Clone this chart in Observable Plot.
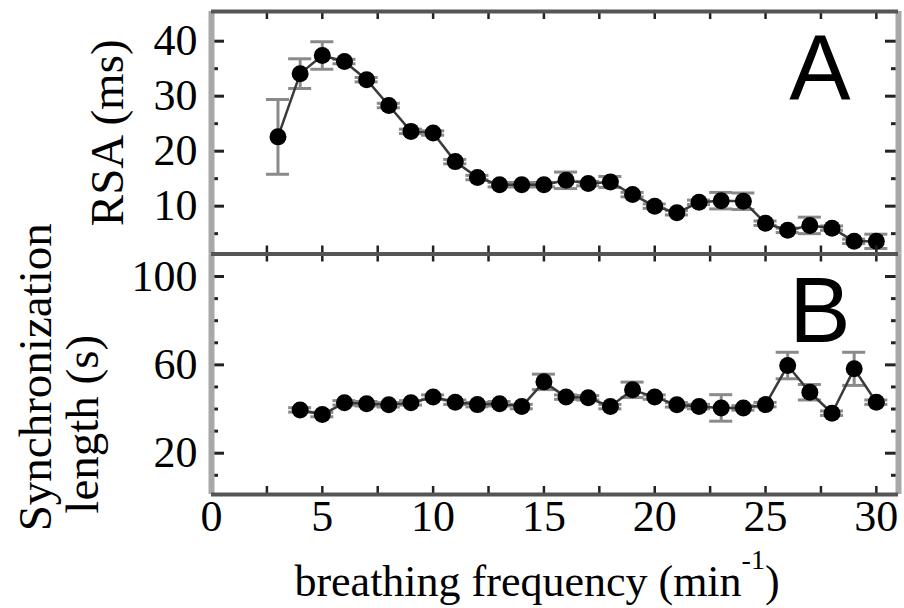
<!DOCTYPE html>
<html><head><meta charset="utf-8">
<script src="https://cdn.jsdelivr.net/npm/d3@7"></script>
<script src="https://cdn.jsdelivr.net/npm/@observablehq/plot@0.6"></script>
<style>
body{margin:0;background:#fff;}
#wrap{position:relative;width:904px;height:608px;overflow:hidden;background:#fff;}
#wrap svg{position:absolute;left:0;}
</style></head><body><div id="wrap"></div>
<script>
// ---- data ----
const freqA = [3,4,5,6,7,8,9,10,11,12,13,14,15,16,17,18,19,20,21,22,23,24,25,26,27,28,29,30];
const rsa   = [22.6,34.1,37.4,36.3,33.0,28.3,23.6,23.3,18.1,15.2,13.9,13.9,13.9,14.7,14.1,14.4,12.1,10.0,8.8,10.7,11.0,10.9,6.9,5.6,6.5,6.0,3.6,3.6];
const rsaErr= [6.8,2.7,2.5,0.4,0.4,0.4,0.4,0.4,0.4,0.4,0.4,0.4,0.4,1.5,0.4,1.0,0.4,0.4,0.4,0.4,1.5,1.5,0.4,0.4,1.5,0.4,0.4,1.3];
const freqB = [4,5,6,7,8,9,10,11,12,13,14,15,16,17,18,19,20,21,22,23,24,25,26,27,28,29,30];
const sync  = [39.6,37.5,42.8,42.4,41.9,42.8,45.4,43.1,42.0,42.4,41.1,52.3,45.4,45.1,41.1,48.7,45.4,41.9,41.1,40.5,40.5,42.0,59.7,47.6,38.1,58.2,43.1];
const syncErr=[1.0,1.0,1.0,1.0,1.0,1.0,1.0,1.0,1.0,1.0,1.0,3.5,1.0,1.0,1.0,3.5,1.0,1.0,1.0,6.0,1.0,1.0,6.0,3.5,1.0,7.5,1.0];
const xTickLabels = [0,5,10,15,20,25,30];
const xTicks = [2.5,5,7.5,10,12.5,15,17.5,20,22.5,25,27.5,30];
const yMajorA = [10,20,30,40];
const yMinorA = [5,15,25,35];
const yMajorB = [20,60,100];
const yMinorB = [10,30,40,50,70,80,90];
const xDomain = [0,31];
const yDomainA = [1.3,45.4];
const yDomainB = [1.3,110.2];
const panelLabels = ["A","B"];
const yLabelA = "RSA (ms)";
const yLabelB1 = "Synchronization";
const yLabelB2 = "length (s)";
const xLabel = "breathing frequency (min";
const xLabelSup = "-1";
const xLabelEnd = ")";

// ---- layout ----
const W = 904, ML = 211, MR = 6;
const FW = W - ML - MR;
const serif = "'Liberation Serif','Times New Roman',serif";
const sans = "'Liberation Sans',Arial,sans-serif";
const frameDark = "#555", frameLight = "#a8a8a8", tickCol = "#222", errCol = "#8a8a8a";

const tableA = freqA.map((f,i)=>({x:f, v:rsa[i], e:rsaErr[i]}));
const tableB = freqB.map((f,i)=>({x:f, v:sync[i], e:syncErr[i]}));

function panel({data, yDomain, yMajor, yMinor, height, mt, mb, label, extra}) {
  const FH = height - mt - mb;
  const marks = [
    // error bars
    Plot.ruleX(data, {x:"x", y1:d=>d.v-d.e, y2:d=>d.v+d.e, stroke:errCol, strokeWidth:3}),
    Plot.ruleY(data, {y:d=>d.v+d.e, x1:d=>d.x-0.52, x2:d=>d.x+0.52, stroke:errCol, strokeWidth:3}),
    Plot.ruleY(data, {y:d=>d.v-d.e, x1:d=>d.x-0.52, x2:d=>d.x+0.52, stroke:errCol, strokeWidth:3}),
    Plot.line(data, {x:"x", y:"v", stroke:"#3a3a3a", strokeWidth:2.5}),
    Plot.dot(data, {x:"x", y:"v", r:8.5, fill:"#000", stroke:"none"}),
    // inward ticks
    Plot.tickY(yMajor, {y:d=>d, insetRight:FW-13, stroke:tickCol, strokeWidth:3}),
    Plot.tickY(yMinor, {y:d=>d, insetRight:FW-7, stroke:tickCol, strokeWidth:3}),
    Plot.tickY(yMajor, {y:d=>d, insetLeft:FW-13, stroke:tickCol, strokeWidth:3}),
    Plot.tickY(yMinor, {y:d=>d, insetLeft:FW-7, stroke:tickCol, strokeWidth:3}),
    Plot.tickX(xTicks, {x:d=>d, insetBottom:FH-8, stroke:tickCol, strokeWidth:2.5}),
    Plot.tickX(xTicks, {x:d=>d, insetTop:FH-8, stroke:tickCol, strokeWidth:2.5}),
    // frame
    Plot.ruleX(xDomain, {x:d=>d, stroke:frameLight, strokeWidth:6}),
    Plot.ruleY(yDomain, {y:d=>d, stroke:frameDark, strokeWidth:4}),
    Plot.axisY({ticks:yMajor, tickSize:0, tickPadding:14, label:null, fontSize:44, fontFamily:serif}),
    Plot.text([label], {text:d=>d, frameAnchor:"top-right", textAnchor:"end", lineAnchor:"middle", dx:-48, dy:58.7, fontSize:92, fontFamily:sans, fill:"#000"}),
    ...extra
  ];
  return Plot.plot({
    width: W, height, marginLeft: ML, marginRight: MR, marginTop: mt, marginBottom: mb,
    x: {domain: xDomain, axis: null},
    y: {domain: yDomain},
    style: {fontFamily: serif, fontSize: "44px", background: "transparent", overflow: "visible", color: "#000"},
    marks
  });
}

const svgA = panel({
  data: tableA, yDomain: yDomainA, yMajor: yMajorA, yMinor: yMinorA,
  height: 256, mt: 11, mb: 2.5, label: panelLabels[0],
  extra: [
    Plot.text([yLabelA], {text:d=>d, frameAnchor:"left", textAnchor:"middle", rotate:-90, dx:-104, dy:0, fontSize:47, fontFamily:serif, fill:"#000"})
  ]
});
const svgB = panel({
  data: tableB, yDomain: yDomainB, yMajor: yMajorB, yMinor: yMinorB,
  height: 358, mt: 3.5, mb: 114, label: panelLabels[1],
  extra: [
    Plot.axisX({ticks:xTickLabels, tickSize:0, tickPadding:5, label:null, fontSize:44, fontFamily:serif}),
    Plot.text([yLabelB1], {text:d=>d, frameAnchor:"left", textAnchor:"middle", rotate:-90, dx:-176, dy:3, fontSize:47, fontFamily:serif, fill:"#000"}),
    Plot.text([yLabelB2], {text:d=>d, frameAnchor:"left", textAnchor:"middle", rotate:-90, dx:-129, dy:50, fontSize:47, fontFamily:serif, fill:"#000"}),
    Plot.text([xLabel], {text:d=>d, frameAnchor:"bottom", textAnchor:"middle", lineAnchor:"middle", dx:-18, dy:87, fontSize:44, fontFamily:serif, fill:"#000"})
  ]
});

const wrap = document.getElementById("wrap");
svgA.style.top = "0px";
svgB.style.top = "250px";
wrap.appendChild(svgA);
wrap.appendChild(svgB);

// superscript in x label
d3.select(svgB).selectAll("text").filter(function(){ return this.textContent === xLabel; }).each(function(){
  const t = d3.select(this);
  t.append("tspan").attr("font-size", "28px").attr("dy", "-27").text(xLabelSup);
  t.append("tspan").attr("font-size", "44px").attr("dy", "27").text(xLabelEnd);
});
</script></body></html>
